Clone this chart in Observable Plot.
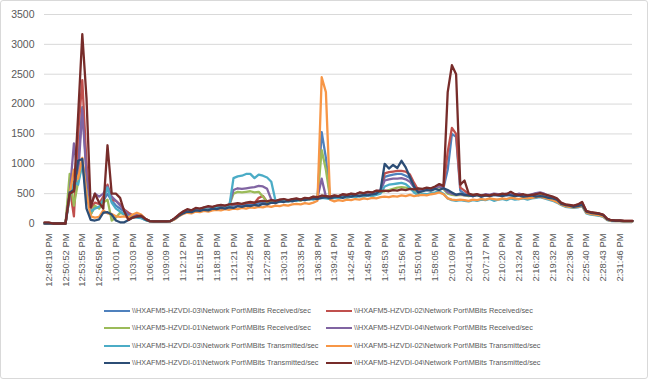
<!DOCTYPE html>
<html><head><meta charset="utf-8">
<script src="https://cdn.jsdelivr.net/npm/d3@7"></script>
<script src="https://cdn.jsdelivr.net/npm/@observablehq/plot@0.6"></script>
<style>
html,body{margin:0;padding:0;background:#fff;}
#page{position:relative;width:648px;height:379px;overflow:hidden;font-family:"Liberation Sans",Arial,sans-serif;}
#chart{position:absolute;left:0;top:0;}
#border{position:absolute;left:0;top:0;width:648px;height:379px;box-sizing:border-box;border:1px solid #d9d9d9;border-radius:3px;pointer-events:none;}
.item{position:absolute;display:flex;align-items:center;font-size:7.3px;color:#595959;white-space:nowrap;height:10px;line-height:10px;}
.sw{width:26px;height:2.6px;margin-right:2px;}
</style></head>
<body>
<div id="page"><div id="chart"></div><div id="legend"></div><div id="border"></div></div>
<script>
const tickLabels = ["12:48:19 PM","12:50:52 PM","12:53:55 PM","12:56:58 PM","1:00:01 PM","1:03:03 PM","1:06:06 PM","1:09:09 PM","1:12:12 PM","1:15:15 PM","1:18:18 PM","1:21:21 PM","1:24:25 PM","1:27:28 PM","1:30:31 PM","1:33:35 PM","1:36:38 PM","1:39:41 PM","1:42:45 PM","1:45:49 PM","1:48:53 PM","1:51:56 PM","1:55:01 PM","1:58:05 PM","2:01:09 PM","2:04:13 PM","2:07:17 PM","2:10:20 PM","2:13:24 PM","2:16:28 PM","2:19:32 PM","2:22:36 PM","2:25:40 PM","2:28:43 PM","2:31:46 PM"];
// sample index of each tick label (every 4th sample, starting at 1)
const tickIndex = [1,5,9,13,17,21,25,29,33,37,41,45,49,53,57,61,65,69,73,77,81,85,89,93,97,101,105,109,113,117,121,125,129,133,137];

const seriesNames = [
  "\\\\HXAFM5-HZVDI-03\\Network Port\\MBits Received/sec",
  "\\\\HXAFM5-HZVDI-02\\Network Port\\MBits Received/sec",
  "\\\\HXAFM5-HZVDI-01\\Network Port\\MBits Received/sec",
  "\\\\HXAFM5-HZVDI-04\\Network Port\\MBits Received/sec",
  "\\\\HXAFM5-HZVDI-03\\Network Port\\MBits Transmitted/sec",
  "\\\\HXAFM5-HZVDI-02\\Network Port\\MBits Transmitted/sec",
  "\\\\HXAFM5-HZVDI-01\\Network Port\\MBits Transmitted/sec",
  "\\\\HXAFM5-HZVDI-04\\Network Port\\MBits Transmitted/sec"
];
const seriesColors = ["#4F81BD","#C0504D","#9BBB59","#8064A2","#4BACC6","#F79646","#2C4D75","#772C2A"];

const rx03 = [0,0,0,0,0,0,450,600,1000,1950,
900,150,280,260,380,500,380,300,250,200,
150,120,110,100,60,40,35,35,35,35,
40,78,132,175,205,195,225,220,245,240,
255,265,275,270,295,300,310,305,320,330,
325,340,350,345,360,355,375,385,370,390,
400,385,410,405,430,425,1530,1100,430,450,
445,470,460,480,475,500,495,510,505,525,
540,780,800,820,830,830,800,760,640,540,
560,570,565,600,620,600,900,1500,1450,550,
500,470,460,480,450,470,460,480,470,470,
470,490,470,470,470,450,470,480,490,470,
440,420,390,330,305,295,285,305,335,195,
175,165,155,135,65,45,45,45,40,40,
40];
const rx02 = [0,0,0,0,0,0,600,120,1500,2400,
1000,250,350,330,450,650,400,380,320,230,
180,140,130,120,70,40,35,35,35,35,
40,85,145,195,230,215,250,245,265,280,
275,295,305,295,315,320,330,325,340,350,
345,430,460,365,380,375,395,400,385,405,
410,395,425,415,445,435,460,455,445,465,
455,485,475,495,485,515,505,525,515,545,
550,840,860,870,880,880,870,820,680,560,
570,590,580,610,640,610,1200,1600,1500,600,
550,490,470,490,460,480,470,490,480,490,
480,520,480,480,480,460,480,490,500,480,
460,440,410,340,315,305,295,315,355,205,
185,175,165,145,75,50,50,50,45,45,
45];
const rx01 = [0,0,0,0,0,0,830,300,700,1000,
700,150,300,250,350,400,50,100,180,150,
120,100,130,110,60,40,35,35,35,35,
40,80,135,180,210,200,230,230,250,260,
260,280,290,280,300,500,530,520,530,540,
520,530,450,360,370,360,380,390,370,390,
400,380,410,400,430,420,1230,900,430,450,
440,470,460,480,470,500,490,510,500,520,
530,540,560,580,600,610,600,590,540,500,
550,570,560,590,610,580,500,480,470,480,
470,460,480,470,460,480,470,490,480,470,
490,480,470,490,480,460,480,500,510,490,
450,430,400,330,300,290,280,300,330,190,
170,160,150,130,65,45,45,45,40,40,
40];
const rx04 = [0,0,0,0,0,0,500,1340,800,1900,
800,300,500,450,500,620,450,380,300,220,
150,130,150,140,80,40,35,35,35,35,
40,85,140,190,220,210,240,240,260,270,
270,290,300,290,310,560,590,580,590,600,
610,630,620,580,400,370,390,400,380,400,
410,390,420,410,440,430,750,450,440,460,
450,480,470,490,480,510,500,520,510,540,
550,720,740,750,750,760,740,700,600,520,
560,580,570,600,620,590,520,500,480,490,
470,480,460,480,470,490,480,500,490,480,
500,490,480,500,480,470,490,510,520,500,
460,440,410,340,310,300,290,310,340,200,
180,170,160,140,70,50,45,45,40,40,
40];
const tx03 = [0,0,0,0,0,0,450,700,650,1000,
500,200,250,280,400,600,350,250,200,150,
120,110,100,90,60,40,35,35,35,35,
40,75,130,170,200,190,220,210,240,230,
250,260,270,260,290,760,790,800,830,830,
760,820,800,770,700,380,360,380,370,390,
380,400,390,410,400,420,430,420,410,430,
420,440,430,450,440,460,450,470,460,480,
500,620,650,660,670,680,660,600,520,470,
500,490,510,520,540,500,420,390,380,390,
380,370,390,380,400,390,410,380,400,410,
390,420,400,410,420,400,420,430,440,420,
400,380,350,310,280,270,260,270,290,170,
150,140,130,110,55,40,40,40,35,35,
35];
const tx02 = [0,0,0,0,0,0,500,900,750,1100,
500,120,100,110,220,170,160,120,110,120,
100,150,180,150,80,40,35,35,35,35,
40,70,120,160,180,170,200,190,210,200,
220,230,220,240,230,250,240,260,250,270,
260,280,270,290,280,300,290,310,300,320,
330,320,340,330,350,380,2450,2200,400,370,
390,380,400,390,410,400,420,410,430,420,
440,450,440,460,450,470,460,480,460,470,
480,470,490,500,520,490,420,400,390,400,
390,380,400,390,410,400,420,410,400,420,
410,430,420,410,430,420,430,440,450,430,
410,390,360,320,290,280,270,280,300,180,
160,150,140,120,60,45,40,40,35,35,
35];
const tx01 = [0,0,0,0,0,0,520,560,1050,1080,
250,60,50,70,180,190,150,50,20,20,
60,100,110,120,70,40,35,35,35,35,
40,80,130,170,200,190,220,210,230,220,
250,240,260,250,270,260,290,280,300,290,
310,300,330,320,350,340,370,360,380,370,
390,400,390,410,420,410,430,440,420,440,
450,430,460,450,470,460,480,470,490,500,
560,1000,920,980,930,1050,940,780,620,520,
540,560,550,580,560,590,560,520,480,500,
480,470,460,480,450,470,460,480,470,460,
480,470,460,470,450,460,470,450,460,450,
430,420,400,330,310,300,280,290,310,200,
180,170,160,140,70,50,45,45,40,40,
40];
const tx04 = [20,20,0,0,0,0,500,540,1800,3170,
2100,270,500,350,250,1310,500,500,430,200,
60,100,120,130,80,40,35,35,35,35,
40,90,150,200,240,220,260,250,270,290,
280,300,310,300,320,330,340,330,350,360,
350,370,380,370,390,380,400,410,390,410,
420,400,430,420,450,440,470,460,450,470,
460,490,480,500,490,520,510,530,520,550,
540,550,540,560,550,570,560,580,570,590,
580,600,590,620,660,630,2200,2650,2500,650,
720,500,480,490,470,480,470,490,480,500,
490,530,490,480,490,470,480,490,510,490,
470,450,420,350,320,310,300,320,360,210,
190,180,170,150,80,55,50,50,45,45,
45];

const yTicks = [0,500,1000,1500,2000,2500,3000,3500];

const allSeries = [rx03, rx02, rx01, rx04, tx03, tx02, tx01, tx04];
const rows = [];
allSeries.forEach((vals, si) => vals.forEach((v, j) => rows.push({j, v, s: seriesNames[si]})));

const font = '"Liberation Sans", Arial, sans-serif';
const chart = Plot.plot({
  width: 648,
  height: 300,
  marginLeft: 44,
  marginRight: 16,
  marginTop: 14,
  marginBottom: 77,
  style: {fontFamily: font, background: "transparent", color: "#595959"},
  x: {domain: [0, 140]},
  y: {domain: [0, 3500]},
  color: {domain: seriesNames, range: seriesColors},
  marks: [
    Plot.gridY(yTicks, {stroke: "#d9d9d9", strokeOpacity: 1, strokeWidth: 1}),
    Plot.lineY(rows, {x: "j", y: "v", z: "s", stroke: "s", strokeWidth: 2.3, strokeLinejoin: "round", strokeLinecap: "round"}),
    Plot.axisY(yTicks, {tickSize: 0, tickPadding: 10, fontSize: 10.5, label: null, fill: "#595959", tickFormat: (d) => String(d)}),
    Plot.axisX(tickIndex, {tickSize: 0, tickPadding: 10, tickRotate: -90, fontSize: 9.4, label: null, fill: "#595959",
      tickFormat: (d) => tickLabels[tickIndex.indexOf(d)]})
  ]
});
document.getElementById("chart").appendChild(chart);

// legend
const legend = document.getElementById("legend");
const colX = [104, 326];
const rowY = [311, 328, 346, 363];
seriesNames.forEach((name, i) => {
  const it = document.createElement("div");
  it.className = "item";
  it.style.left = colX[i % 2] + "px";
  it.style.top = (rowY[Math.floor(i / 2)] - 5) + "px";
  const sw = document.createElement("span");
  sw.className = "sw";
  sw.style.background = seriesColors[i];
  const tx = document.createElement("span");
  tx.textContent = name;
  it.appendChild(sw);
  it.appendChild(tx);
  legend.appendChild(it);
});
</script>
</body></html>
